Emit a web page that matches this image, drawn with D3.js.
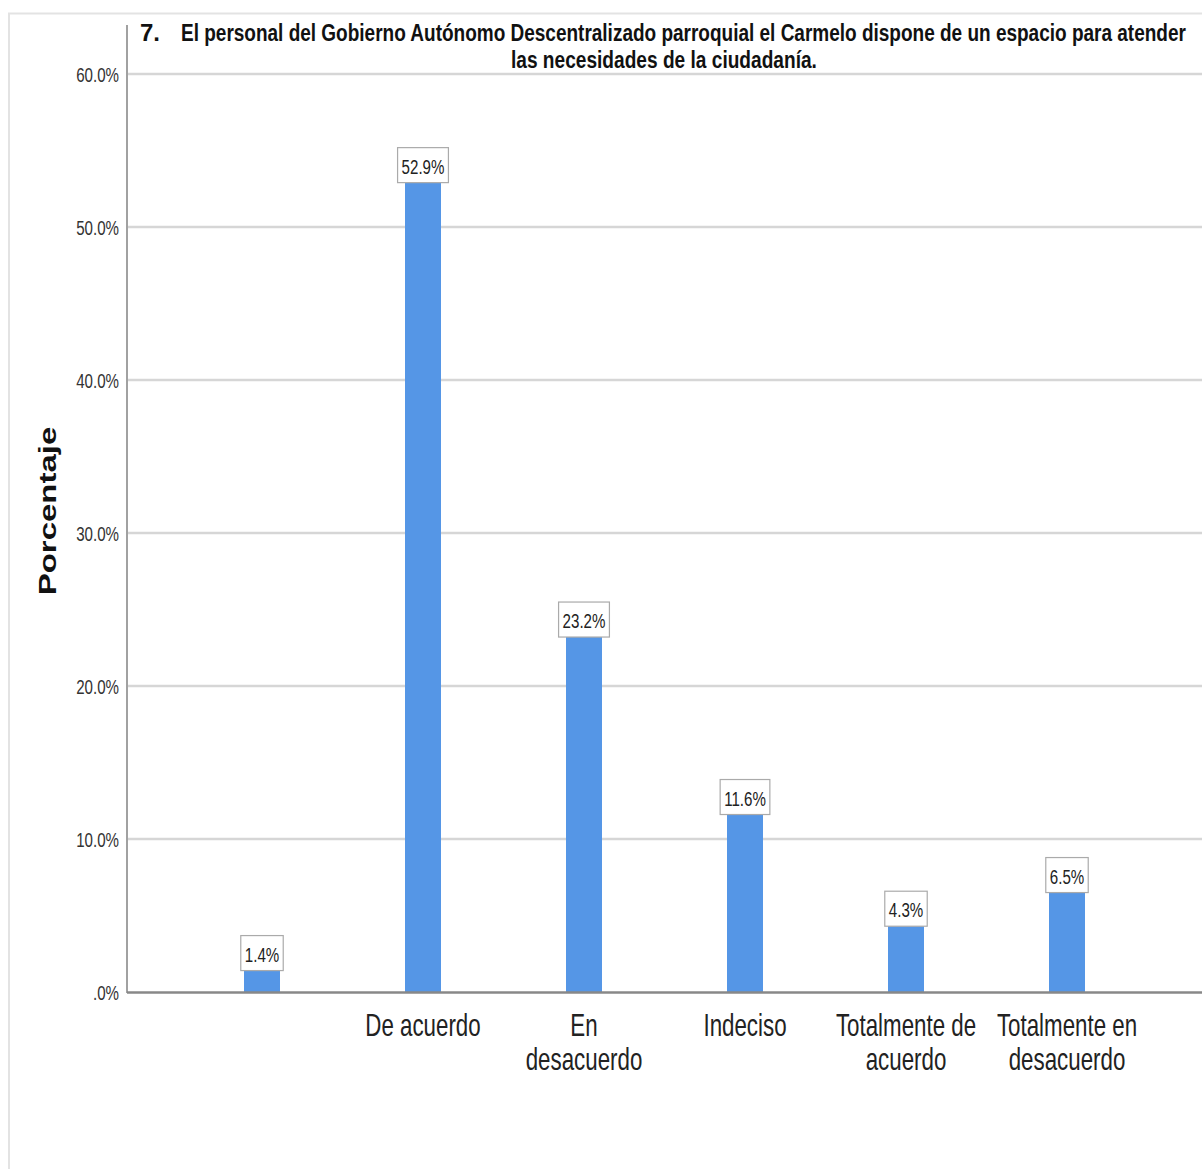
<!DOCTYPE html>
<html>
<head>
<meta charset="utf-8">
<script src="https://cdn.jsdelivr.net/npm/d3@7"></script>
<style>
  html, body { margin: 0; padding: 0; background: #fff; }
  svg { display: block; }
  text { font-family: "Liberation Sans", Arial, sans-serif; }
</style>
</head>
<body>
<svg id="chart" width="1202" height="1169"></svg>
<script>
// Category labels (each inner array is one line of the label)
const categories = ["", "De acuerdo", "En desacuerdo", "Indeciso", "Totalmente de acuerdo", "Totalmente en desacuerdo"];
const categoryLines = [[""], ["De acuerdo"], ["En", "desacuerdo"], ["Indeciso"], ["Totalmente de", "acuerdo"], ["Totalmente en", "desacuerdo"]];
// Percentage of respondents per answer
const percentages = [1.4, 52.9, 23.2, 11.6, 4.3, 6.5];
// Y axis ticks
const yTicks = [0, 10, 20, 30, 40, 50, 60];
const yTickLabels = [".0%", "10.0%", "20.0%", "30.0%", "40.0%", "50.0%", "60.0%"];
const titleNumber = "7.";
const titleLines = [
  "El personal del Gobierno Autónomo Descentralizado parroquial el Carmelo dispone de un espacio para atender",
  "las necesidades de la ciudadanía."
];
const yAxisTitle = "Porcentaje";

const svg = d3.select("#chart");
const W = 1202, H = 1169;
const SX = 0.72; // horizontal condensing of the lettering

// outer frame
svg.append("path")
  .attr("d", `M9,${H} L9,13.5 L${W},13.5`)
  .attr("fill", "none").attr("stroke", "#e3e3e3").attr("stroke-width", 2);

const plot = { left: 128, right: 1202, top: 20, bottom: 992 };

const y = d3.scaleLinear().domain([0, 60]).range([992, 74]);
const x = d3.scaleBand().domain(categories).range([181.5, 181.5 + 161 * 6]);
const cx = i => x(categories[i]) + x.bandwidth() / 2;
const barW = 36;

// condensed text helper
function label(parent, tx, ty, str, size, anchor, opts = {}) {
  const g = parent.append("g").attr("transform", `translate(${tx},${ty}) scale(${SX},1)`);
  g.append("text")
    .attr("text-anchor", anchor)
    .attr("font-size", size)
    .attr("fill", opts.fill || "#222")
    .attr("font-weight", opts.weight || "normal")
    .text(str);
  return g;
}

// text squeezed to span a given width
function fitted(parent, tx, ty, str, size, width) {
  const g = parent.append("g");
  const t = g.append("text")
    .attr("font-size", size).attr("font-weight", "bold").attr("fill", "#111")
    .text(str);
  const natural = t.node().getComputedTextLength();
  g.attr("transform", `translate(${tx},${ty}) scale(${width / natural},1)`);
  return g;
}

// gridlines
svg.append("g").selectAll("line").data(yTicks.filter(d => d > 0)).join("line")
  .attr("x1", plot.left).attr("x2", plot.right)
  .attr("y1", d => y(d)).attr("y2", d => y(d))
  .attr("stroke", "#d6d6d6").attr("stroke-width", 2.4);

// y axis line
svg.append("line")
  .attr("x1", plot.left - 1).attr("x2", plot.left - 1)
  .attr("y1", 25).attr("y2", 993)
  .attr("stroke", "#8a8a8a").attr("stroke-width", 1.6);

// y tick labels
const yl = svg.append("g");
yTicks.forEach((d, i) => label(yl, 119, y(d) + 8, yTickLabels[i], 21, "end", { fill: "#333" }));

// y axis title (rotated, condensed across its height)
svg.append("g")
  .attr("transform", `translate(56,511) scale(${SX},1) rotate(-90)`)
  .append("text")
  .attr("text-anchor", "middle")
  .attr("font-weight", "bold").attr("font-size", 33).attr("fill", "#111")
  .text(yAxisTitle);

// bars
svg.append("g").selectAll("rect").data(percentages).join("rect")
  .attr("x", (d, i) => cx(i) - barW / 2)
  .attr("width", barW)
  .attr("y", d => y(d))
  .attr("height", d => y(0) - y(d))
  .attr("fill", "#5596e6");

// baseline
svg.append("line")
  .attr("x1", plot.left - 1).attr("x2", plot.right)
  .attr("y1", 992.5).attr("y2", 992.5)
  .attr("stroke", "#888").attr("stroke-width", 2.5);

// value labels in boxes
const vl = svg.append("g");
percentages.forEach((d, i) => {
  const g = label(vl, cx(i), y(d) - 9, d.toFixed(1) + "%", 21, "middle");
  const bb = g.select("text").node().getBBox();
  const w = bb.width * SX + 8;
  vl.insert("rect", () => g.node())
    .attr("x", cx(i) - w / 2).attr("y", y(d) - 35)
    .attr("width", w).attr("height", 35)
    .attr("fill", "#fff").attr("stroke", "#aaa").attr("stroke-width", 1.2);
});

// category labels
const cl = svg.append("g");
categoryLines.forEach((lines, i) => {
  lines.forEach((s, j) => label(cl, cx(i), 1036 + j * 34, s, 31, "middle"));
});

// title
const tg = svg.append("g");
fitted(tg, 140, 41, titleNumber, 24, 20);
fitted(tg, 181, 41, titleLines[0], 24, 1006);
fitted(tg, 511, 68, titleLines[1], 24, 306);
</script>
</body>
</html>
